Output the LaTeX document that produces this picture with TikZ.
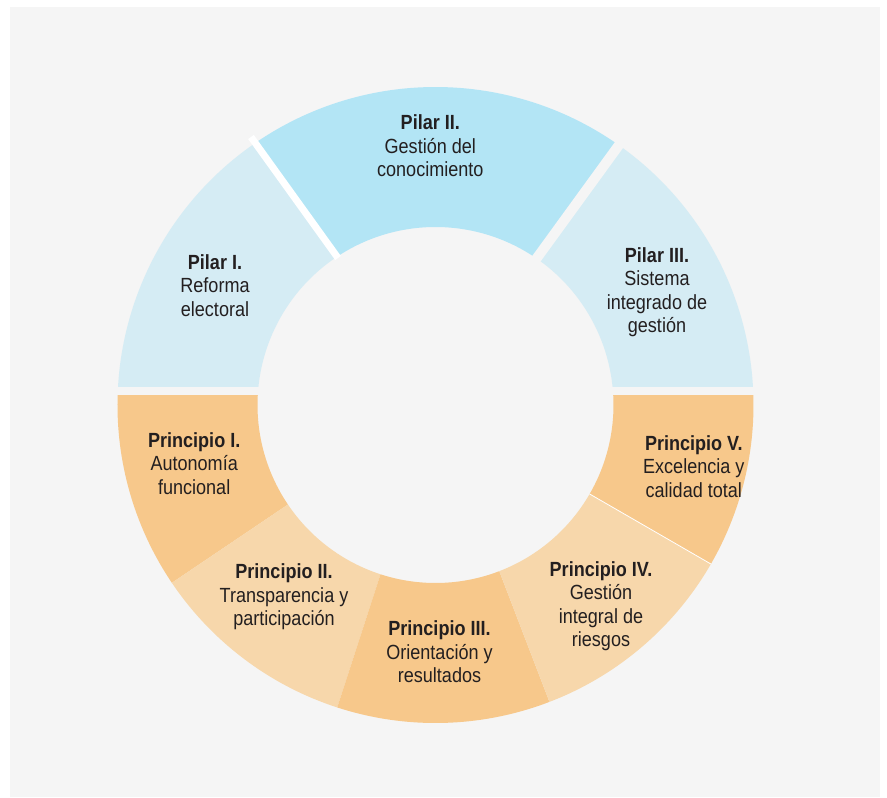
\documentclass[tikz,border=0pt]{standalone}
\usepackage{fontspec}
\setmainfont{Liberation Sans}[FakeStretch=0.88]
\definecolor{bg}{HTML}{F5F5F5}
\definecolor{bluel}{HTML}{D5ECF4}
\definecolor{blued}{HTML}{B3E5F5}
\definecolor{orad}{HTML}{F7C88B}
\definecolor{oral}{HTML}{F7D7AB}
\definecolor{txt}{HTML}{231F20}
\newcommand\ringseg[3]{\fill[#3] (#1:178pt) -- (#1:318pt) arc[start angle=#1,end angle=#2,radius=318pt] -- (#2:178pt) arc[start angle=#2,end angle=#1,radius=178pt] -- cycle;}
\begin{document}
\begin{tikzpicture}[x=1pt,y=1pt,
  lbl/.style={align=center, inner sep=0pt, anchor=north, text=txt,
    font=\fontsize{20.5pt}{23.5pt}\selectfont}]
\useasboundingbox[fill=white] (-435.5,-393) rectangle (451.5,405);
\fill[bg] (-425.5,-392) rectangle (444.5,398);
% upper half: pillars
\begin{scope}
  \clip (-340,18) rectangle (340,340);
  \ringseg{124}{185}{bluel}
  \ringseg{55}{124}{blued}
  \ringseg{-5}{55}{bluel}
\end{scope}
\coordinate (w1) at (-184.5,268);
\coordinate (w2) at (-97.5,147);
\draw[white, line width=7pt] (w1) -- (w2);
\coordinate (g1) at (192.3,272.1);
\coordinate (g2) at (92.4,134.6);
\draw[bg, line width=10pt] (g1) -- (g2);
% lower half: principles
\begin{scope}
  \clip (-340,9) rectangle (340,-340);
  \ringseg{175}{214}{orad}
  \ringseg{214}{252}{oral}
  \ringseg{252}{291}{orad}
  \ringseg{291}{330}{oral}
  \ringseg{330}{365}{orad}
  \coordinate (t1) at (330:178pt);
  \coordinate (t2) at (330:318pt);
  \draw[white, line width=0.8pt] (t1) -- (t2);
\end{scope}
% labels
\node[lbl] (p1) at (-220.5,151) {\textbf{Pilar I.}\\Reforma\\electoral};
\node[lbl] (p2) at (-5.2,290.5) {\textbf{Pilar II.}\\Gestión del\\conocimiento};
\node[lbl] (p3) at (221.5,158) {\textbf{Pilar III.}\\Sistema\\integrado de\\gestión};
\node[lbl] (q1) at (-241.3,-27) {\textbf{Principio I.}\\Autonomía\\funcional};
\node[lbl] (q2) at (-151.5,-158.5) {\textbf{Principio II.}\\Transparencia y\\participación};
\node[lbl] (q3) at (4,-215.5) {\textbf{Principio III.}\\Orientación y\\resultados};
\node[lbl] (q4) at (165.5,-156) {\textbf{Principio IV.}\\Gestión\\integral de\\riesgos};
\node[lbl] (q5) at (258.3,-30) {\textbf{Principio V.}\\Excelencia y\\calidad total};
\end{tikzpicture}
\end{document}
